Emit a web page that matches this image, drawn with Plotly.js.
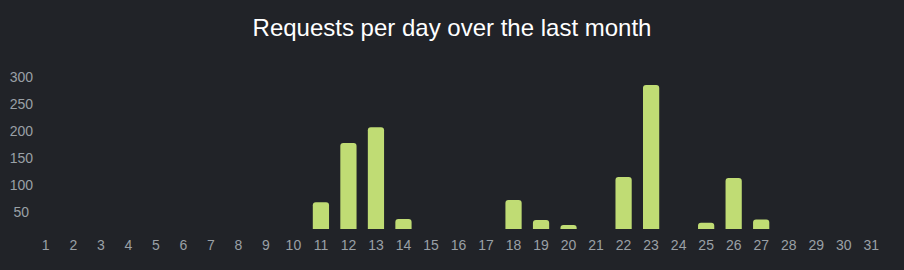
<!DOCTYPE html>
<html>
<head>
<meta charset="utf-8">
<script src="https://cdn.plot.ly/plotly-3.0.1.min.js"></script>
<style>html,body{margin:0;padding:0;background:#212328;}</style>
</head>
<body>
<div id="chart" style="width:904px;height:270px;"></div>
<script>
const days = ['1','2','3','4','5','6','7','8','9','10','11','12','13','14','15','16','17','18','19','20','21','22','23','24','25','26','27','28','29','30','31'];
const requests = [0,0,0,0,0,0,0,0,0,0,68,178,207,37,0,0,0,72,35,26,0,115,285,0,30,113,36,0,0,0,0];
const yTickVals = [50,100,150,200,250,300];
const yTickText = ['50\u00a0','100','150','200','250','300'];

const trace = {
  type: 'bar',
  x: days,
  y: requests,
  marker: {color: '#c0dc74', cornerradius: 3},
  hoverinfo: 'x+y'
};

const layout = {
  width: 904,
  height: 270,
  paper_bgcolor: '#212328',
  plot_bgcolor: '#212328',
  margin: {l: 32, r: 19, t: 70, b: 41},
  bargap: 0.41,
  showlegend: false,
  title: {
    text: 'Requests per day over the last month',
    font: {family: 'Liberation Sans', size: 24, color: '#ffffff'},
    x: 0.5, xanchor: 'center', xref: 'container',
    y: 1 - 28/270, yanchor: 'middle', yref: 'container'
  },
  xaxis: {
    type: 'category',
    range: [-0.5, 30.5],
    showgrid: false, zeroline: false, showline: false, ticks: '',
    tickfont: {family: 'Liberation Sans', size: 14, color: '#9aa0a6'},
    ticklabelstandoff: 6,
    fixedrange: true
  },
  yaxis: {
    range: [18.5, 313],
    tickmode: 'array',
    tickvals: yTickVals,
    ticktext: yTickText,
    showgrid: false, zeroline: false, showline: false, ticks: '',
    tickfont: {family: 'Liberation Sans', size: 14, color: '#9aa0a6'},
    ticklabelstandoff: -2,
    fixedrange: true
  }
};

Plotly.newPlot('chart', [trace], layout, {displayModeBar: false, staticPlot: true});
</script>
</body>
</html>
